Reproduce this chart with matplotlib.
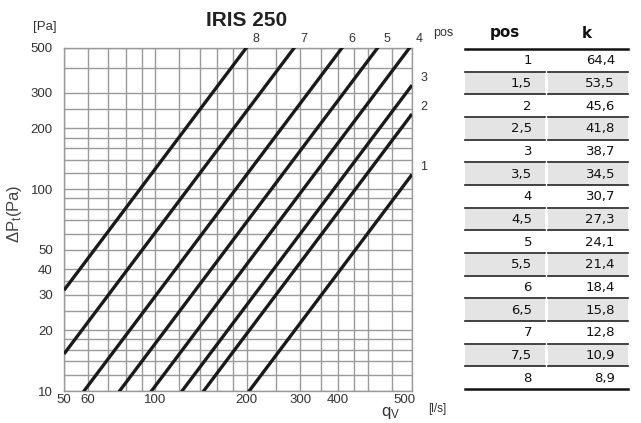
import numpy as np
import matplotlib.pyplot as plt
from matplotlib.patches import Rectangle

plt.rcParams['font.family'] = ['Liberation Sans', 'DejaVu Sans']
plt.rcParams['mathtext.fontset'] = 'custom'
plt.rcParams['mathtext.rm'] = 'Liberation Sans'

# Table data
pos_labels = ['1', '1,5', '2', '2,5', '3', '3,5', '4', '4,5', '5', '5,5',
              '6', '6,5', '7', '7,5', '8']
k_values = [64.4, 53.5, 45.6, 41.8, 38.7, 34.5, 30.7, 27.3, 24.1, 21.4,
            18.4, 15.8, 12.8, 10.9, 8.9]

# Curves drawn for whole positions only
curve_pos = ['1', '2', '3', '4', '5', '6', '7', '8']
curve_k = [64.4, 45.6, 38.7, 30.7, 24.1, 18.4, 12.8, 8.9]

# Axis range and grid
q_min, q_max = 50, 700
dp_min, dp_max = 10, 500
x_grid = [50, 60, 70, 80, 90, 100, 120, 140, 160, 180, 200, 250, 300, 350,
          400, 450, 500, 600, 700]
y_grid = [10, 12, 14, 16, 18, 20, 25, 30, 35, 40, 50, 60, 70, 80, 90, 100,
          120, 140, 160, 180, 200, 250, 300, 400, 500]
x_ticks = [50, 60, 100, 200, 300, 400, 660]
x_ticklabels = ['50', '60', '100', '200', '300', '400', '500']
y_ticks = [10, 20, 30, 40, 50, 100, 200, 300, 500]

W, H = 641, 423
fig = plt.figure(figsize=(W / 100, H / 100), dpi=100)
ax = fig.add_axes([64 / W, 1 - 391 / H, 348 / W, 343 / H])
ax.set_xscale('log')
ax.set_yscale('log')
ax.set_xlim(q_min, q_max)
ax.set_ylim(dp_min, dp_max)

grid_col = '#9a9a9a'
for xv in x_grid:
    ax.axvline(xv, color=grid_col, lw=1.0, zorder=1)
for yv in y_grid:
    ax.axhline(yv, color=grid_col, lw=1.0, zorder=1)
for sp in ax.spines.values():
    sp.set_color(grid_col)
    sp.set_linewidth(1.0)

ax.set_xticks(x_ticks)
ax.set_xticklabels(x_ticklabels)
ax.set_yticks(y_ticks)
ax.set_yticklabels([str(v) for v in y_ticks])
ax.minorticks_off()
ax.tick_params(axis='both', length=0, labelsize=9.5, colors='#333333')
ax.tick_params(axis='x', pad=2)
ax.tick_params(axis='y', pad=8)

# Pressure-drop curves: dp = (q / k)^2
q_ends = np.array([q_min, q_max], dtype=float)
for name, k in zip(curve_pos, curve_k):
    dp = (q_ends / k) ** 2
    ax.plot(q_ends, dp, color='#1a1a1a', lw=2.4, solid_capstyle='butt', zorder=3)
    q_top = k * np.sqrt(dp_max)
    if q_top <= q_max:
        ax.annotate(name, (q_top, dp_max), xytext=(7, 2.5), textcoords='offset points',
                    ha='center', va='bottom', fontsize=9, color='#333333',
                    annotation_clip=False)
    else:
        ax.annotate(name, (q_max, (q_max / k) ** 2), xytext=(6, 1), textcoords='offset points',
                    ha='left', va='bottom', fontsize=9, color='#333333',
                    annotation_clip=False)

# Overlay in pixel coords for free text and the table
ov = fig.add_axes([0, 0, 1, 1])
ov.set_xlim(0, W)
ov.set_ylim(H, 0)
ov.axis('off')
ov.patch.set_visible(False)

ov.text(247, 21, 'IRIS 250', ha='center', va='center', fontsize=15,
        fontweight='bold', color='#222222')
ov.text(45, 27, '[Pa]', ha='center', va='center', fontsize=9.5, color='#333333')
ov.text(15, 214, r'$\mathregular{\Delta P_t(Pa)}$', ha='center', va='center',
        rotation=90, fontsize=12, color='#444444')
ov.text(391, 413, r'$\mathregular{q_V}$', ha='center', va='center',
        fontsize=12, color='#333333')
ov.text(437, 409, '[l/s]', ha='center', va='center', fontsize=8.5, color='#333333')
ov.text(443, 33, 'pos', ha='center', va='center', fontsize=9, color='#333333')

# Table
tab_font = ['DejaVu Sans']
c1_l, c1_r, c2_l, c2_r = 465, 545, 548, 628
top = 49
row_h = 22.67
ov.text(505, 33, 'pos', ha='center', va='center', fontsize=11, fontweight='bold',
        family=tab_font, color='#111111')
ov.text(587, 33, 'k', ha='center', va='center', fontsize=11, fontweight='bold',
        family=tab_font, color='#111111')
for i, (p, k) in enumerate(zip(pos_labels, k_values)):
    y0 = top + i * row_h
    y1 = y0 + row_h
    if i % 2 == 1:
        ov.add_patch(Rectangle((c1_l, y0 + 1), c1_r - c1_l, row_h - 1.5,
                               facecolor='#e4e4e4', edgecolor='none'))
        ov.add_patch(Rectangle((c2_l, y0 + 1), c2_r - c2_l, row_h - 1.5,
                               facecolor='#e4e4e4', edgecolor='none'))
    ov.text(532, (y0 + y1) / 2 + 0.5, p, ha='right', va='center', fontsize=9.5,
            family=tab_font, color='#111111')
    ov.text(615, (y0 + y1) / 2 + 0.5, f'{k:.1f}'.replace('.', ','), ha='right',
            va='center', fontsize=9.5, family=tab_font, color='#111111')
    if i < len(pos_labels) - 1:
        ov.plot([c1_l, c1_r], [y1, y1], color='#222222', lw=1.2)
        ov.plot([c2_l, c2_r], [y1, y1], color='#222222', lw=1.2)
ov.plot([c1_l, c2_r], [top, top], color='#111111', lw=1.8)
bottom = top + len(pos_labels) * row_h
ov.plot([c1_l, c2_r], [bottom, bottom], color='#111111', lw=1.8)

fig.savefig('out.png', dpi=100)
